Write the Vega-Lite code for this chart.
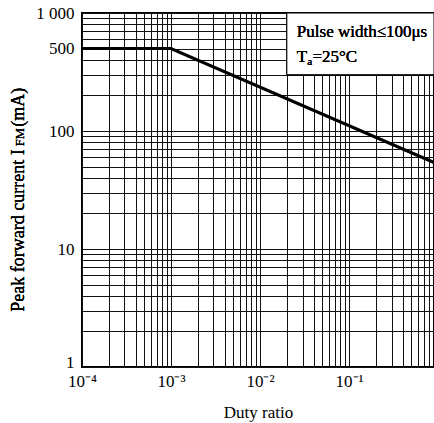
{
  "$schema": "https://vega.github.io/schema/vega-lite/v6.json",
  "autosize": "none",
  "width": 352,
  "height": 354,
  "padding": {"left": 82, "top": 13, "right": 0, "bottom": 56},
  "config": {
    "font": "Liberation Serif",
    "view": {"stroke": "black", "strokeWidth": 2},
    "text": {"font": "Liberation Serif", "fontWeight": "normal"},
    "axis": {
      "labelFont": "Liberation Serif",
      "titleFont": "Liberation Serif",
      "labelFontSize": 17,
      "titleFontSize": 17,
      "labelFontWeight": "normal",
      "titleFontWeight": "normal",
      "labelColor": "black",
      "titleColor": "black",
      "ticks": false,
      "tickSize": 0,
      "domain": false,
      "grid": true,
      "gridColor": "#111",
      "gridWidth": 1,
      "gridOpacity": 1,
      "labelOverlap": false,
      "labelFlush": false
    }
  },
  "data": {
    "values": [
      {"duty": 0.0001, "ifm": 500},
      {"duty": 0.001, "ifm": 500},
      {"duty": 0.9, "ifm": 54}
    ]
  },
  "layer": [
    {
      "mark": {"type": "line", "color": "black", "strokeWidth": 3.2, "clip": true},
      "encoding": {
        "x": {
          "field": "duty", "type": "quantitative",
          "scale": {"type": "log", "domain": [0.0001, 0.9], "nice": false},
          "axis": {
            "values": [0.0001,0.0002,0.0003,0.0004,0.0005,0.0006,0.0007,0.0008,0.0009,0.001,0.002,0.003,0.004,0.005,0.006,0.007,0.008,0.009,0.01,0.02,0.03,0.04,0.05,0.06,0.07,0.08,0.09,0.1,0.2,0.3,0.4,0.5,0.6,0.7,0.8,0.9],
            "labelExpr": "abs(log(datum.value)/LN10 - round(log(datum.value)/LN10)) < 0.01 ? ['10⁻⁴','10⁻³','10⁻²','10⁻¹','1'][round(log(datum.value)/LN10)+4] : ''",
            "labelPadding": 6,
            "title": "Duty ratio",
            "titlePadding": 15
          }
        },
        "y": {
          "field": "ifm", "type": "quantitative",
          "scale": {"type": "log", "domain": [1, 1000], "nice": false},
          "axis": {
            "values": [1,2,3,4,5,6,7,8,9,10,20,30,40,50,60,70,80,90,100,200,300,400,500,600,700,800,900,1000],
            "labelExpr": "datum.value == 1 ? '1' : datum.value == 10 ? '10' : datum.value == 100 ? '100' : datum.value == 500 ? '500' : datum.value == 1000 ? '1 000' : ''",
            "labelBaseline": {"condition": {"test": "datum.value == 1", "value": "alphabetic"}, "value": "middle"},
            "labelPadding": 8,
            "title": null
          }
        }
      }
    },
    {
      "mark": {"type": "rect", "fill": "white", "stroke": "black", "strokeWidth": 1},
      "encoding": {
        "x": {"datum": 0.02, "type": "quantitative"},
        "x2": {"datum": 0.9},
        "y": {"datum": 300, "type": "quantitative"},
        "y2": {"datum": 1000}
      }
    },
    {
      "mark": {"type": "text", "fontSize": 17, "fontWeight": "normal", "align": "left", "baseline": "alphabetic", "dx": 10, "color": "black"},
      "encoding": {
        "x": {"datum": 0.02, "type": "quantitative"},
        "y": {"datum": 630, "type": "quantitative"},
        "text": {"value": "Pulse width≤100μs"}
      }
    },
    {
      "mark": {"type": "text", "fontSize": 17, "fontWeight": "normal", "align": "left", "baseline": "alphabetic", "dx": 10, "color": "black"},
      "encoding": {
        "x": {"datum": 0.02, "type": "quantitative"},
        "y": {"datum": 387, "type": "quantitative"},
        "text": {"value": "T"}
      }
    },
    {
      "mark": {"type": "text", "fontSize": 11, "fontWeight": "normal", "align": "left", "baseline": "alphabetic", "dx": 20.5, "dy": 3, "color": "black"},
      "encoding": {
        "x": {"datum": 0.02, "type": "quantitative"},
        "y": {"datum": 387, "type": "quantitative"},
        "text": {"value": "a"}
      }
    },
    {
      "mark": {"type": "text", "fontSize": 17, "fontWeight": "normal", "align": "left", "baseline": "alphabetic", "dx": 25.6, "color": "black"},
      "encoding": {
        "x": {"datum": 0.02, "type": "quantitative"},
        "y": {"datum": 387, "type": "quantitative"},
        "text": {"value": "=25°C"}
      }
    },
    {
      "mark": {"type": "text", "fontSize": 18, "fontWeight": "normal", "align": "left", "baseline": "alphabetic", "angle": 270, "color": "black"},
      "encoding": {
        "x": {"datum": 0.0000225, "type": "quantitative"},
        "y": {"datum": 2.94, "type": "quantitative"},
        "text": {"value": "Peak forward current I"}
      }
    },
    {
      "mark": {"type": "text", "fontSize": 12.5, "fontWeight": "normal", "align": "left", "baseline": "alphabetic", "angle": 270, "dx": 3, "color": "black"},
      "encoding": {
        "x": {"datum": 0.0000225, "type": "quantitative"},
        "y": {"datum": 70, "type": "quantitative"},
        "text": {"value": "FM"}
      }
    },
    {
      "mark": {"type": "text", "fontSize": 18, "fontWeight": "normal", "align": "left", "baseline": "alphabetic", "angle": 270, "color": "black"},
      "encoding": {
        "x": {"datum": 0.0000225, "type": "quantitative"},
        "y": {"datum": 108.5, "type": "quantitative"},
        "text": {"value": "(mA)"}
      }
    }
  ]
}
